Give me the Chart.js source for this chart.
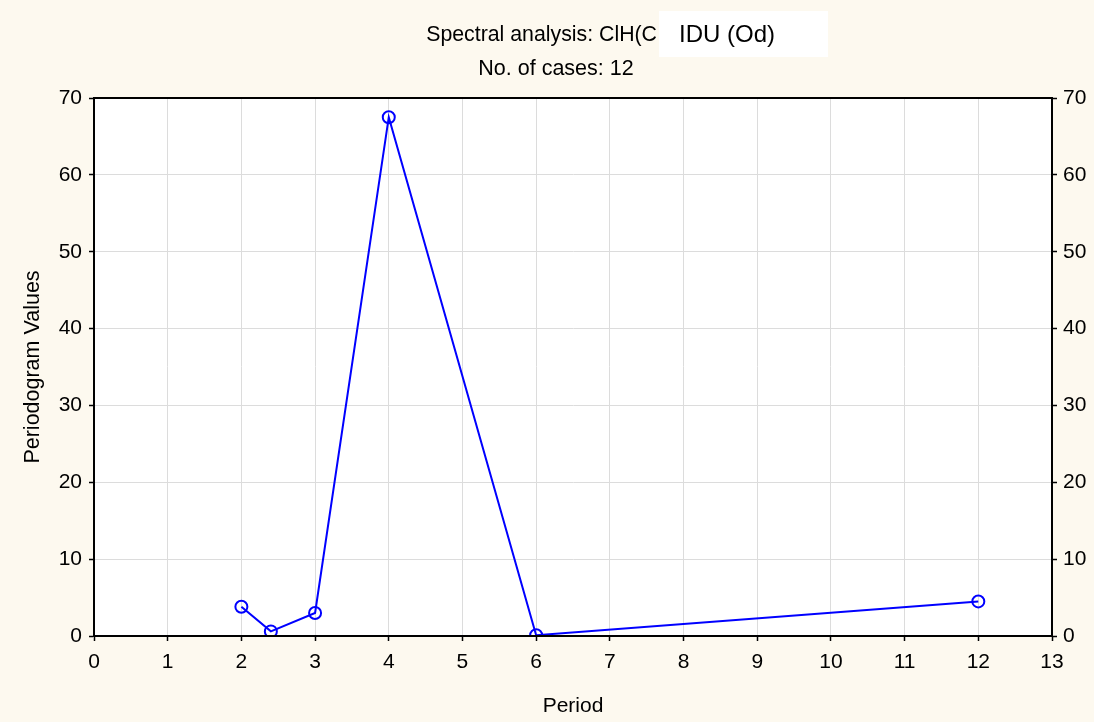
<!DOCTYPE html>
<html>
<head>
<meta charset="utf-8">
<script src="https://cdn.jsdelivr.net/npm/chart.js@4.4.0/dist/chart.umd.min.js"></script>
<style>
  html, body { margin: 0; padding: 0; background: #fdf9ef; }
  #wrap { width: 1094px; height: 722px; }
</style>
</head>
<body>
<div id="wrap"><canvas id="chart" width="1094" height="722"></canvas></div>
<script>
// Datos del periodograma
const periods = [2, 2.4, 3, 4, 6, 12];
const periodogramValues = [3.8, 0.6, 3.0, 67.5, 0.1, 4.5];
const xTicks = [0, 1, 2, 3, 4, 5, 6, 7, 8, 9, 10, 11, 12, 13];
const yTicks = [0, 10, 20, 30, 40, 50, 60, 70];

const titleMain = 'Spectral analysis: ClH(C';
const titleOverlay = 'IDU (Od)';
const subtitleText = 'No. of cases: 12';
const FONT = '"Liberation Sans", Arial, sans-serif';

// Fondo blanco del área de trazado, borde y títulos
const framePlugin = {
    id: 'frame',
    beforeDraw(chart) {
        const { ctx, chartArea: a } = chart;
        ctx.save();
        ctx.fillStyle = '#ffffff';
        ctx.fillRect(a.left, a.top, a.right - a.left, a.bottom - a.top);
        ctx.restore();
    },
    afterDraw(chart) {
        const { ctx, chartArea: a } = chart;
        ctx.save();
        ctx.strokeStyle = '#000';
        ctx.lineWidth = 2;
        ctx.strokeRect(a.left, a.top, a.right - a.left, a.bottom - a.top);

        // Títulos
        ctx.fillStyle = '#000';
        ctx.textBaseline = 'middle';
        ctx.font = '21.3px ' + FONT;
        ctx.textAlign = 'right';
        ctx.fillText(titleMain, 657, 35);
        ctx.fillStyle = '#ffffff';
        ctx.fillRect(659, 11, 169, 46);
        ctx.fillStyle = '#000';
        ctx.textAlign = 'left';
        ctx.font = '24px ' + FONT;
        ctx.fillText(titleOverlay, 679, 35);
        ctx.font = '21.5px ' + FONT;
        ctx.textAlign = 'center';
        ctx.fillText(subtitleText, 556, 69);
        ctx.restore();
    }
};

const tickFont = { family: FONT, size: 21 };
const gridOpts = {
    color: '#dcdcdc',
    lineWidth: 1,
    tickColor: '#000',
    tickLength: 5,
    tickWidth: 1.5
};

new Chart(document.getElementById('chart'), {
    type: 'scatter',
    data: {
        datasets: [{
            data: periods.map((p, i) => ({ x: p, y: periodogramValues[i] })),
            showLine: true,
            borderColor: '#0000ff',
            borderWidth: 2,
            pointRadius: 6,
            pointBorderWidth: 2,
            pointBorderColor: '#0000ff',
            pointBackgroundColor: 'rgba(0,0,0,0)',
            clip: 0
        }]
    },
    options: {
        responsive: false,
        animation: false,
        layout: { padding: { top: 98, left: 0, right: 0, bottom: 0 } },
        plugins: { legend: { display: false }, tooltip: { enabled: false } },
        scales: {
            x: {
                type: 'linear',
                min: 0, max: 13,
                afterBuildTicks: s => { s.ticks = xTicks.map(v => ({ value: v })); },
                afterFit: s => { s.height = 86; },
                ticks: { color: '#000', font: tickFont, padding: 9, maxRotation: 0 },
                grid: gridOpts,
                border: { color: '#000', width: 2 },
                title: {
                    display: true, text: 'Period', color: '#000',
                    font: { family: FONT, size: 21 },
                    padding: { top: 0, bottom: 3 }
                }
            },
            y: {
                position: 'left',
                min: 0, max: 70,
                afterBuildTicks: s => { s.ticks = yTicks.map(v => ({ value: v })); },
                afterFit: s => { s.width = 94; },
                ticks: { color: '#000', font: tickFont, padding: 7 },
                grid: gridOpts,
                border: { color: '#000', width: 2 },
                title: {
                    display: true, text: 'Periodogram Values', color: '#000',
                    font: { family: FONT, size: 21.5 },
                    padding: { top: 20, bottom: 0 }
                }
            },
            y2: {
                position: 'right',
                min: 0, max: 70,
                afterBuildTicks: s => { s.ticks = yTicks.map(v => ({ value: v })); },
                afterFit: s => { s.width = 42; },
                ticks: { color: '#000', font: tickFont, padding: 6 },
                grid: Object.assign({}, gridOpts, { drawOnChartArea: false }),
                border: { color: '#000', width: 2 }
            }
        }
    },
    plugins: [framePlugin]
});
</script>
</body>
</html>
